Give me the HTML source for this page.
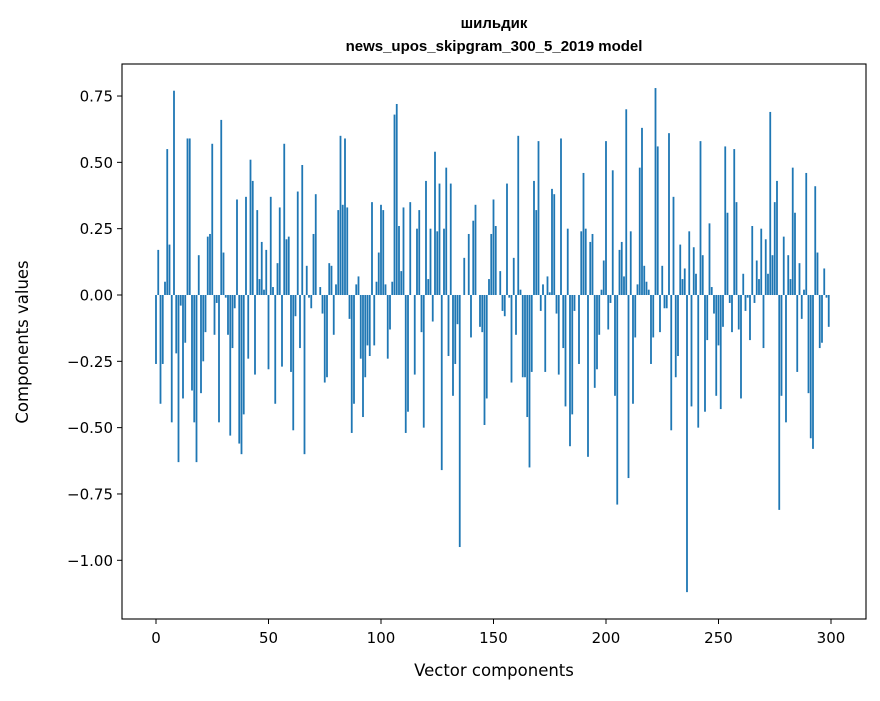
<!DOCTYPE html>
<html><head><meta charset="utf-8"><style>
body{margin:0;background:#fff}
svg text{font-family:"DejaVu Sans","Liberation Sans",sans-serif;fill:#000}
svg text.ttl{font-family:"Liberation Sans","DejaVu Sans",sans-serif}
</style></head><body>
<svg id="chart" width="880" height="696" xmlns="http://www.w3.org/2000/svg">
<rect width="880" height="696" fill="#fff"/>
<g id="bars"></g>
<g id="axes"></g>
<text class="ttl" x="494" y="28" text-anchor="middle" font-size="15" font-weight="bold">шильдик</text>
<text class="ttl" x="494" y="51" text-anchor="middle" font-size="15" font-weight="bold">news_upos_skipgram_300_5_2019 model</text>
<text x="494" y="676" text-anchor="middle" font-size="16.5">Vector components</text>
<text transform="translate(28,342) rotate(-90)" text-anchor="middle" font-size="16.5">Components values</text>
</svg>
<script>
const values = [-0.26,0.17,-0.41,-0.26,0.05,0.55,0.19,-0.48,0.77,-0.22,-0.63,-0.04,-0.39,-0.18,0.59,0.59,-0.36,-0.48,-0.63,0.15,
-0.37,-0.25,-0.14,0.22,0.23,0.57,-0.15,-0.03,-0.48,0.66,0.16,-0.01,-0.15,-0.53,-0.2,-0.05,0.36,-0.56,-0.6,-0.45,
0.37,-0.24,0.51,0.43,-0.3,0.32,0.06,0.2,0.02,0.17,-0.28,0.37,0.03,-0.41,0.12,0.33,-0.27,0.57,0.21,0.22,
-0.29,-0.51,-0.08,0.39,-0.2,0.49,-0.6,0.11,-0.01,-0.05,0.23,0.38,0,0.03,-0.07,-0.33,-0.31,0.12,0.11,-0.15,
0.04,0.32,0.6,0.34,0.59,0.33,-0.09,-0.52,-0.41,0.04,0.07,-0.24,-0.46,-0.31,-0.19,-0.23,0.35,-0.19,0.05,0.16,
0.34,0.32,0.04,-0.24,-0.13,0.05,0.68,0.72,0.26,0.09,0.33,-0.52,-0.44,0.35,0,-0.3,0.25,0.32,-0.14,-0.5,
0.43,0.06,0.25,-0.1,0.54,0.24,0.42,-0.66,0.25,0.48,-0.23,0.42,-0.38,-0.26,-0.11,-0.95,0,0.14,0,0.23,
-0.16,0.28,0.34,0,-0.12,-0.14,-0.49,-0.39,0.06,0.23,0.36,0.26,0,0.09,-0.06,-0.08,0.42,-0.01,-0.33,0.14,
-0.15,0.6,0.02,-0.31,-0.31,-0.46,-0.65,-0.29,0.43,0.32,0.58,-0.06,0.04,-0.29,0.07,0.01,0.4,0.38,-0.07,-0.3,
0.59,-0.2,-0.42,0.25,-0.57,-0.45,-0.06,0,-0.26,0.24,0.46,0.25,-0.61,0.2,0.23,-0.35,-0.28,-0.15,0.02,0.13,
0.58,-0.13,-0.03,0.47,-0.38,-0.79,0.17,0.2,0.07,0.7,-0.69,0.24,-0.41,-0.16,0.04,0.48,0.63,0.11,0.05,0.02,
-0.26,-0.16,0.78,0.56,-0.14,0.11,-0.05,-0.05,0.61,-0.51,0.37,-0.31,-0.23,0.19,0.06,0.1,-1.12,0.24,-0.42,0.18,
0.08,-0.5,0.58,0.15,-0.44,-0.17,0.27,0.03,-0.07,-0.38,-0.19,-0.43,-0.12,0.56,0.31,-0.03,-0.14,0.55,0.35,-0.13,
-0.39,0.08,-0.06,-0.01,-0.17,0.26,-0.03,0.13,0.06,0.25,-0.2,0.21,0.08,0.69,0.15,0.35,0.43,-0.81,-0.38,0.22,
-0.48,0.15,0.06,0.48,0.31,-0.29,0.12,-0.09,0.02,0.46,-0.37,-0.54,-0.58,0.41,0.16,-0.2,-0.18,0.1,-0.01,-0.12];
const xTicks = [0,50,100,150,200,250,300];
const yTicks = [-1.00,-0.75,-0.50,-0.25,0.00,0.25,0.50,0.75];

const L=122,R=866,T=64,B=619;
const xMin=-15.11,xMax=315.56,yMin=-1.2213,yMax=0.8707;
const sx=v=>L+(v-xMin)/(xMax-xMin)*(R-L);
const sy=v=>B-(v-yMin)/(yMax-yMin)*(B-T);
const NS="http://www.w3.org/2000/svg";
const bars=document.getElementById('bars');
values.forEach((v,i)=>{
  const r=document.createElementNS(NS,'rect');
  const x0=sx(i-0.4),x1=sx(i+0.4),y0=sy(Math.max(v,0)),y1=sy(Math.min(v,0));
  r.setAttribute('x',x0);r.setAttribute('width',x1-x0);
  r.setAttribute('y',y0);r.setAttribute('height',Math.max(y1-y0,0));
  r.setAttribute('fill','#1f77b4');
  
  
  bars.appendChild(r);
});
const ax=document.getElementById('axes');
const frame=document.createElementNS(NS,'rect');
frame.setAttribute('x',L);frame.setAttribute('y',T);frame.setAttribute('width',R-L);frame.setAttribute('height',B-T);
frame.setAttribute('fill','none');frame.setAttribute('stroke','#000');frame.setAttribute('stroke-width','1.1');


ax.appendChild(frame);
xTicks.forEach(t=>{
  const x=sx(t);
  const l=document.createElementNS(NS,'line');
  l.setAttribute('x1',x);l.setAttribute('x2',x);l.setAttribute('y1',B);l.setAttribute('y2',B+5);l.setAttribute('stroke','#000');
  
  
  ax.appendChild(l);
  const tx=document.createElementNS(NS,'text');
  tx.setAttribute('x',x);tx.setAttribute('y',B+24);tx.setAttribute('text-anchor','middle');tx.setAttribute('font-size','15');
  tx.textContent=t;
  
  
  ax.appendChild(tx);
});
yTicks.forEach(t=>{
  const y=sy(t);
  const l=document.createElementNS(NS,'line');
  l.setAttribute('x1',L-5);l.setAttribute('x2',L);l.setAttribute('y1',y);l.setAttribute('y2',y);l.setAttribute('stroke','#000');
  
  
  ax.appendChild(l);
  const tx=document.createElementNS(NS,'text');
  tx.setAttribute('x',L-9);tx.setAttribute('y',y+5.5);tx.setAttribute('text-anchor','end');tx.setAttribute('font-size','15');
  tx.textContent=t.toFixed(2).replace('-','\u2212');
  
  
  ax.appendChild(tx);
});
</script>
</body></html>
